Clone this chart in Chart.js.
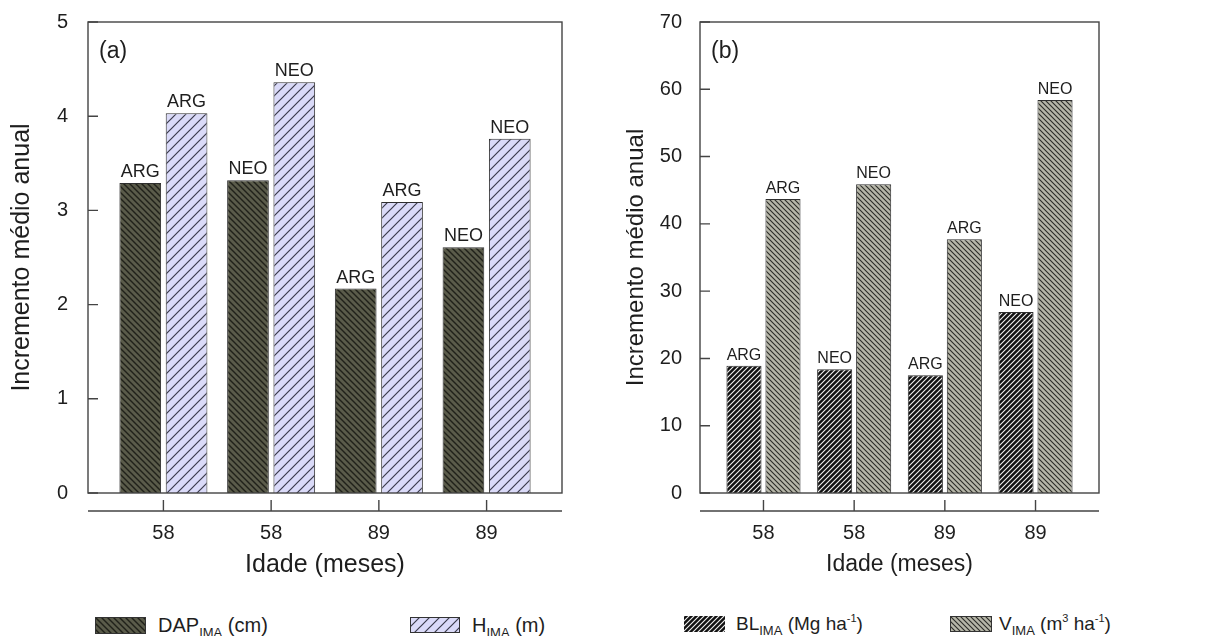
<!DOCTYPE html>
<html lang="pt">
<head>
<meta charset="utf-8">
<title>Incremento médio anual</title>
<script src="https://cdn.jsdelivr.net/npm/chart.js@4.4.1/dist/chart.umd.min.js"></script>
<style>
  html, body { margin: 0; padding: 0; background: #fff; }
  body { width: 1220px; height: 636px; position: relative; overflow: hidden;
         font-family: 'Liberation Sans', Arial, sans-serif; color: #1e1e1e; }
  .painel { position: absolute; top: 0; }
  #painelA { left: 0; }
  #painelB { left: 610px; }
  .legenda { position: absolute; display: flex; align-items: center; white-space: nowrap; }
  .legenda span { line-height: 20px; }
  .legenda sub { font-size: 13px; line-height: 0; vertical-align: -5px; }
  .legenda sup { font-size: 11px; line-height: 0; vertical-align: 8px; }
</style>
</head>
<body>
<canvas id="painelA" class="painel" width="610" height="595"></canvas>
<canvas id="painelB" class="painel" width="610" height="595"></canvas>

<div class="legenda" style="left:95px; top:615px; font-size:20px;">
  <canvas id="legDAP" width="51" height="17" style="margin-right:12px"></canvas>
  <span>DAP<sub>IMA</sub> (cm)</span>
</div>
<div class="legenda" style="left:410px; top:615px; font-size:20px;">
  <canvas id="legH" width="50" height="16" style="margin-right:12px"></canvas>
  <span>H<sub>IMA</sub> (m)</span>
</div>
<div class="legenda" style="left:684px; top:614px; font-size:19px;">
  <canvas id="legBL" width="41" height="16" style="margin-right:11px"></canvas>
  <span>BL<sub>IMA</sub> (Mg ha<sup>-1</sup>)</span>
</div>
<div class="legenda" style="left:950px; top:614px; font-size:19px;">
  <canvas id="legV" width="42" height="16" style="margin-right:7px"></canvas>
  <span>V<sub>IMA</sub> (m<sup>3</sup> ha<sup>-1</sup>)</span>
</div>

<script>
// ========== DADOS ==========
const idades = ['58', '58', '89', '89'];
const materiais = ['ARG', 'NEO', 'ARG', 'NEO'];

// (a) DAP (cm) e altura (m)
const dapIMA = [3.29, 3.32, 2.17, 2.61];
const alturaIMA = [4.03, 4.36, 3.09, 3.76];
const ticksA = [0, 1, 2, 3, 4, 5];

// (b) biomassa de lenho (Mg/ha) e volume (m3/ha)
const blIMA = [18.9, 18.4, 17.5, 26.9];
const volumeIMA = [43.7, 45.9, 37.7, 58.4];
const ticksB = [0, 10, 20, 30, 40, 50, 60, 70];

const corTexto = '#1e1e1e';
const corEixo = '#444444';
const fonte = "'Liberation Sans', Arial, sans-serif";
Chart.defaults.font.family = fonte;
Chart.defaults.color = corTexto;

// ========== HACHURAS ==========
function criarHachura(fundo, linha, passo, direcao, espessura) {
  const c = document.createElement('canvas');
  c.width = c.height = passo;
  const g = c.getContext('2d');
  g.fillStyle = fundo;
  g.fillRect(0, 0, passo, passo);
  g.strokeStyle = linha;
  g.lineWidth = espessura;
  g.beginPath();
  if (direcao === '/') {
    g.moveTo(-1, 1); g.lineTo(1, -1);
    g.moveTo(0, passo); g.lineTo(passo, 0);
    g.moveTo(passo - 1, passo + 1); g.lineTo(passo + 1, passo - 1);
  } else {
    g.moveTo(-1, passo - 1); g.lineTo(1, passo + 1);
    g.moveTo(0, 0); g.lineTo(passo, passo);
    g.moveTo(passo - 1, -1); g.lineTo(passo + 1, 1);
  }
  g.stroke();
  return g.createPattern(c, 'repeat');
}

const padraoDAP = criarHachura('#5a5b4a', '#20211a', 6, '\\', 1.4);
const padraoH = criarHachura('#dadaf8', '#3b3b4c', 10, '/', 1.2);
const padraoBL = criarHachura('#111111', '#f2f2f2', 5, '/', 1.1);
const padraoV = criarHachura('#b6b6a8', '#2c2c28', 5, '\\', 1.1);

// amostras da legenda
function pintarAmostra(id, padrao, contorno) {
  const c = document.getElementById(id);
  const g = c.getContext('2d');
  g.fillStyle = padrao;
  g.fillRect(0, 0, c.width, c.height);
  if (contorno) {
    g.strokeStyle = '#333';
    g.lineWidth = 1;
    g.strokeRect(0.5, 0.5, c.width - 1, c.height - 1);
  }
}
pintarAmostra('legDAP', padraoDAP, true);
pintarAmostra('legH', padraoH, true);
pintarAmostra('legBL', padraoBL, false);
pintarAmostra('legV', padraoV, true);

// ========== MOLDURA, EIXO X DESLOCADO E RÓTULOS ==========
const moldura = {
  id: 'moldura',
  afterDraw(chart, args, opts) {
    const { ctx, chartArea: a, scales: { x, y } } = chart;
    ctx.save();
    ctx.strokeStyle = corEixo;
    ctx.lineWidth = 1.4;
    ctx.strokeRect(a.left, a.top, a.right - a.left, a.bottom - a.top);

    ctx.beginPath();
    // marcas do eixo Y voltadas para dentro
    y.ticks.forEach(t => {
      const py = y.getPixelForValue(t.value);
      ctx.moveTo(a.left, py);
      ctx.lineTo(a.left + opts.marcaY, py);
    });
    // eixo X separado da moldura
    const yEixo = a.bottom + opts.deslocamento;
    ctx.moveTo(a.left, yEixo);
    ctx.lineTo(a.right, yEixo);
    x.ticks.forEach(t => {
      const px = x.getPixelForValue(t.value);
      ctx.moveTo(px, yEixo);
      ctx.lineTo(px, yEixo - opts.marcaX);
    });
    ctx.stroke();

    // ARG / NEO sobre cada barra
    ctx.fillStyle = corTexto;
    ctx.font = opts.fonteRotulo + 'px ' + fonte;
    ctx.textAlign = 'center';
    ctx.textBaseline = 'alphabetic';
    chart.data.datasets.forEach((ds, i) => {
      chart.getDatasetMeta(i).data.forEach((barra, j) => {
        ctx.fillText(ds.rotulos[j], barra.x, barra.y - 6);
      });
    });

    // letra do painel
    ctx.textAlign = 'left';
    ctx.font = '23px ' + fonte;
    ctx.fillText(opts.letra, a.left + 11, a.top + 36);
    ctx.restore();
  }
};

// ========== CRIAR PAINEL ==========
function criarPainel(id, cfg) {
  const ctx = document.getElementById(id);
  return new Chart(ctx, {
    type: 'bar',
    data: {
      datasets: cfg.series.map(s => ({
        label: s.nome,
        data: s.valores.map((v, i) => ({ x: i, y: v })),
        rotulos: materiais,
        backgroundColor: s.padrao,
        borderColor: '#2e2e2e',
        borderWidth: 1,
        categoryPercentage: 0.86,
        barPercentage: 0.9
      }))
    },
    options: {
      responsive: false,
      animation: false,
      layout: { padding: cfg.padding },
      plugins: {
        legend: { display: false },
        tooltip: { enabled: false },
        moldura: {
          letra: cfg.letra,
          marcaY: 10,
          marcaX: 11,
          deslocamento: 18,
          fonteRotulo: cfg.fonteRotulo
        }
      },
      scales: {
        x: {
          type: 'linear',
          offset: false,
          min: -0.7,
          max: 3.7,
          grid: { display: false, drawTicks: false },
          border: { display: false },
          afterBuildTicks: s => { s.ticks = idades.map((_, i) => ({ value: i })); },
          afterFit: s => {
            s.height = cfg.alturaX;
            s.paddingLeft = 0;
            s.paddingRight = 0;
          },
          ticks: {
            padding: cfg.padTickX,
            font: { size: cfg.fonteTick },
            callback: v => idades[v]
          },
          title: {
            display: true,
            text: 'Idade (meses)',
            padding: 0,
            font: { size: cfg.fonteTituloX }
          }
        },
        y: {
          min: cfg.eixoY[0],
          max: cfg.eixoY[cfg.eixoY.length - 1],
          grid: { display: false, drawTicks: false },
          border: { display: false },
          afterBuildTicks: s => { s.ticks = cfg.eixoY.map(v => ({ value: v })); },
          afterFit: s => {
            s.width = cfg.larguraY;
            s.paddingTop = 0;
            s.paddingBottom = 0;
          },
          ticks: {
            padding: cfg.padTickY,
            font: { size: cfg.fonteTick }
          },
          title: {
            display: true,
            text: 'Incremento médio anual',
            padding: 0,
            font: { size: cfg.fonteTituloY }
          }
        }
      }
    },
    plugins: [moldura]
  });
}

criarPainel('painelA', {
  letra: '(a)',
  series: [
    { nome: 'DAP', valores: dapIMA, padrao: padraoDAP },
    { nome: 'H', valores: alturaIMA, padrao: padraoH }
  ],
  eixoY: ticksA,
  padding: { left: 7, top: 22, right: 48, bottom: 15 },
  larguraY: 81,
  alturaX: 87,
  padTickX: 28,
  padTickY: 20,
  fonteTick: 20,
  fonteTituloX: 25,
  fonteTituloY: 25,
  fonteRotulo: 18
});

criarPainel('painelB', {
  letra: '(b)',
  series: [
    { nome: 'BL', valores: blIMA, padrao: padraoBL },
    { nome: 'V', valores: volumeIMA, padrao: padraoV }
  ],
  eixoY: ticksB,
  padding: { left: 12, top: 22, right: 121, bottom: 17 },
  larguraY: 78,
  alturaX: 85,
  padTickX: 28,
  padTickY: 18,
  fonteTick: 20,
  fonteTituloX: 23,
  fonteTituloY: 24,
  fonteRotulo: 16
});
</script>
</body>
</html>
